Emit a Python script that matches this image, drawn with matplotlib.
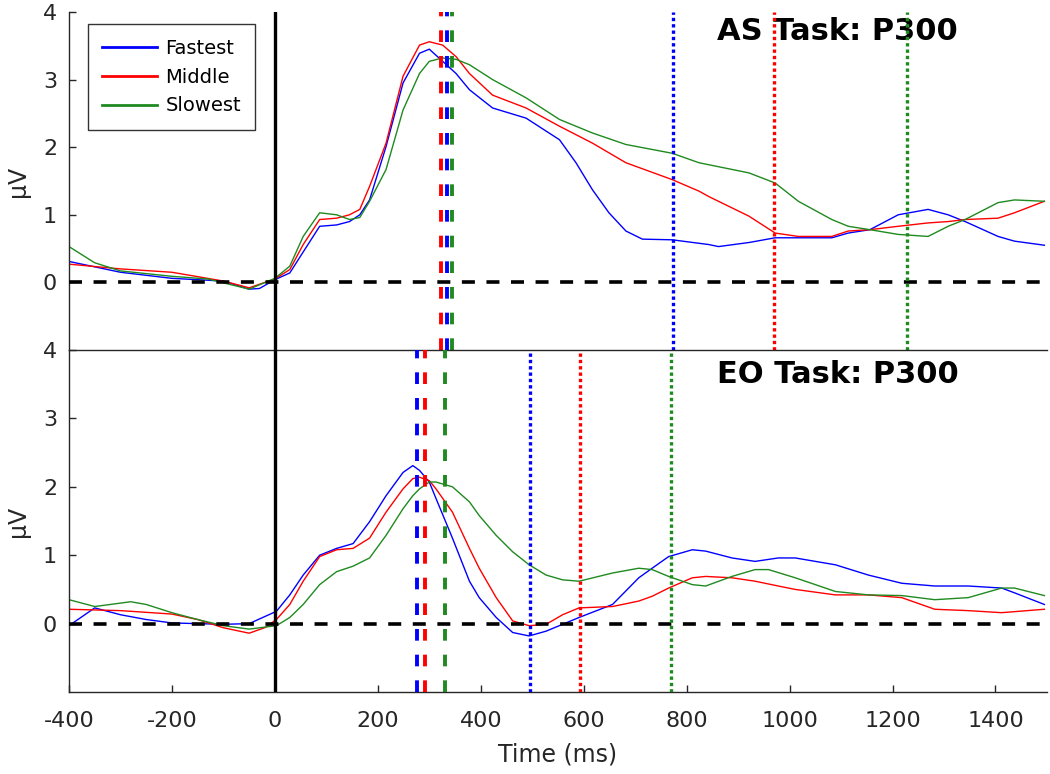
import numpy as np
import matplotlib
matplotlib.use('Agg')
import matplotlib.pyplot as plt

# ---- data: AS task (top panel) ----
as_fast_t = [-400, -300, -200, -100, -50, -30, 0, 29, 55, 87, 120, 145, 165, 184, 216, 249, 281, 300, 326, 352, 378,
             423, 488, 553, 585, 617, 649, 682, 714, 772, 843, 862, 921, 972, 1017, 1082, 1114, 1156, 1211, 1269,
             1308, 1341, 1405, 1437, 1495]
as_fast_v = [0.31, 0.15, 0.06, 0.02, -0.1, -0.09, 0.04, 0.14, 0.45, 0.83, 0.85, 0.9, 1.0, 1.22, 2.01, 2.95, 3.39, 3.45, 3.27, 3.09, 2.85,
             2.58, 2.43, 2.11, 1.77, 1.37, 1.03, 0.76, 0.64, 0.63, 0.56, 0.53, 0.59, 0.66, 0.66, 0.66, 0.73, 0.78, 1.0, 1.08,
             1.0, 0.9, 0.68, 0.61, 0.55]

as_mid_t = [-400, -300, -200, -100, -50, 0, 29, 55, 87, 120, 145, 165, 184, 216, 249, 281, 300, 326, 352, 378,
            423, 488, 553, 617, 682, 772, 824, 843, 921, 972, 1017, 1082, 1114, 1156, 1211, 1269, 1308, 1341,
            1405, 1437, 1495]
as_mid_v = [0.27, 0.2, 0.15, 0.02, -0.08, 0.05, 0.19, 0.56, 0.93, 0.95, 1.0, 1.08, 1.42, 2.06, 3.05, 3.51, 3.56, 3.51, 3.34, 3.09,
            2.77, 2.58, 2.31, 2.06, 1.77, 1.52, 1.35, 1.27, 0.98, 0.73, 0.68, 0.68, 0.76, 0.78, 0.83, 0.88, 0.9, 0.93,
            0.95, 1.03, 1.2]

as_slow_t = [-400, -350, -300, -200, -130, -50, 0, 29, 55, 87, 120, 145, 165, 184, 216, 249, 281, 300, 326, 352, 378,
             423, 488, 553, 617, 682, 772, 824, 921, 972, 1017, 1082, 1114, 1156, 1211, 1269, 1308, 1341, 1405,
             1437, 1495]
as_slow_v = [0.53, 0.29, 0.17, 0.09, 0.05, -0.1, 0.06, 0.24, 0.68, 1.03, 1.0, 0.93, 0.96, 1.2, 1.67, 2.55, 3.09, 3.27, 3.32, 3.3, 3.22,
             3.0, 2.73, 2.41, 2.21, 2.04, 1.91, 1.77, 1.62, 1.47, 1.2, 0.93, 0.83, 0.78, 0.71, 0.68, 0.83, 0.93, 1.18,
             1.22, 1.2]

# ---- data: EO task (bottom panel) ----
eo_fast_t = [-400, -350, -300, -250, -200, -100, -50, 3, 29, 55, 87, 120, 152, 184, 216, 249, 268, 281, 300, 313, 345,
             378, 397, 430, 462, 494, 527, 559, 591, 656, 707, 733, 765, 811, 837, 888, 933, 978, 1011, 1089, 1153,
             1218, 1282, 1347, 1412, 1437, 1495]
eo_fast_v = [-0.03, 0.23, 0.13, 0.06, 0.01, -0.01, 0.0, 0.18, 0.42, 0.71, 1.0, 1.1, 1.17, 1.49, 1.87, 2.21, 2.31, 2.24, 2.07, 1.83, 1.25,
             0.62, 0.38, 0.09, -0.13, -0.18, -0.11, -0.01, 0.09, 0.28, 0.67, 0.81, 0.98, 1.08, 1.06, 0.96, 0.91, 0.96, 0.96, 0.86, 0.71,
             0.59, 0.55, 0.55, 0.52, 0.45, 0.28]

eo_mid_t = [-400, -300, -200, -150, -100, -50, -20, 3, 29, 55, 87, 120, 152, 184, 216, 249, 268, 281, 300, 313, 345,
            378, 397, 430, 462, 494, 527, 559, 591, 656, 707, 733, 765, 811, 837, 888, 933, 978, 1011, 1089, 1153,
            1218, 1282, 1347, 1412, 1495]
eo_mid_v = [0.21, 0.19, 0.14, 0.06, -0.06, -0.14, -0.06, 0.06, 0.28, 0.62, 0.98, 1.08, 1.1, 1.25, 1.63, 1.97, 2.12, 2.14, 2.09, 1.97, 1.63,
            1.1, 0.81, 0.38, 0.04, -0.03, -0.01, 0.13, 0.23, 0.25, 0.33, 0.4, 0.52, 0.67, 0.69, 0.67, 0.62, 0.55, 0.5, 0.42, 0.42,
            0.38, 0.21, 0.19, 0.16, 0.21]

eo_slow_t = [-400, -350, -280, -250, -200, -150, -100, -50, 3, 29, 55, 87, 120, 152, 184, 216, 249, 268, 281, 300, 313, 345,
             378, 397, 430, 462, 494, 527, 559, 591, 656, 707, 733, 765, 811, 837, 888, 933, 959, 1011, 1089, 1153,
             1218, 1282, 1347, 1412, 1437, 1495]
eo_slow_v = [0.35, 0.25, 0.32, 0.28, 0.16, 0.06, -0.03, -0.08, -0.03, 0.09, 0.28, 0.57, 0.76, 0.84, 0.96, 1.29, 1.68, 1.87, 1.97, 2.07, 2.07, 2.0,
             1.78, 1.58, 1.29, 1.05, 0.86, 0.71, 0.64, 0.62, 0.74, 0.81, 0.79, 0.69, 0.57, 0.55, 0.69, 0.79, 0.79, 0.67, 0.47, 0.42,
             0.41, 0.35, 0.38, 0.52, 0.52, 0.41]

# peak latencies (dashed) and response times (dotted): fastest, middle, slowest
as_peak = [334, 323, 344]
as_rt = [774, 970, 1229]
eo_peak = [276, 291, 331]
eo_rt = [495, 593, 770]

labels = ['Fastest', 'Middle', 'Slowest']
cols = ['#0000ff', '#ff0000', '#1f8a1f']
xticks = [-400, -200, 0, 200, 400, 600, 800, 1000, 1200, 1400]
yticks = [0, 1, 2, 3, 4]

txt_col = '#262626'
plt.rcParams['font.family'] = 'DejaVu Sans'

fig = plt.figure(figsize=(10.5, 7.74), dpi=100)
ax1 = fig.add_axes([0.0657, 0.5478, 0.9314, 0.4367])
ax2 = fig.add_axes([0.0657, 0.1059, 0.9314, 0.4419])

panels = [
    (ax1, [(as_fast_t, as_fast_v), (as_mid_t, as_mid_v), (as_slow_t, as_slow_v)], as_peak, as_rt, 'AS Task: P300', 0.941),
    (ax2, [(eo_fast_t, eo_fast_v), (eo_mid_t, eo_mid_v), (eo_slow_t, eo_slow_v)], eo_peak, eo_rt, 'EO Task: P300', 0.927),
]

for ax, curves, peak, rt, title, ty in panels:
    for (t, v), c, lab in zip(curves, cols, labels):
        ax.plot(t, v, color=c, lw=1.0, label=lab)
    ax.axhline(0, color='k', lw=2.6, linestyle=(0, (3.6, 3.2)), zorder=3)
    ax.axvline(0, color='k', lw=2.4, zorder=4)
    for p, c in zip(peak, cols):
        ax.axvline(p, color=c, lw=2.8, linestyle=(0, (3.0, 3.6)), zorder=5)
    for r, c in zip(rt, cols):
        ax.axvline(r, color=c, lw=2.4, linestyle=(0, (1.0, 0.9)), zorder=5)
    ax.set_xlim(-400, 1500)
    ax.set_ylim(-1, 4)
    ax.set_yticks(yticks)
    ax.set_yticklabels([str(y) for y in yticks])
    ax.tick_params(direction='in', length=5, width=1, colors=txt_col, labelsize=16)
    ax.tick_params(axis='y', pad=8.5)
    ax.spines['right'].set_visible(False)
    for s in ax.spines.values():
        s.set_color(txt_col)
        s.set_linewidth(1.0)
    ax.set_ylabel('µV', fontsize=17, color=txt_col, labelpad=9)
    ax.text(0.786, ty, title, transform=ax.transAxes, ha='center', va='center',
            fontsize=22, fontweight='bold', color='k')

ax1.spines['top'].set_visible(False)
ax1.spines['bottom'].set_visible(False)
ax1.set_xticks([])
ax2.set_xticks(xticks)
ax2.set_xticklabels([str(x) for x in xticks])
ax2.tick_params(axis='x', pad=14)
ax2.set_xlabel('Time (ms)', fontsize=17, color=txt_col, labelpad=8)

leg = ax1.legend(loc='upper left', bbox_to_anchor=(0.009, 0.992), fontsize=14, frameon=True,
                 fancybox=False, edgecolor='k', handlelength=2.8, labelspacing=0.5, borderpad=0.75,
                 handletextpad=0.45)
leg.get_frame().set_linewidth(1.0)
for h in leg.get_lines():
    h.set_linewidth(2.0)

fig.savefig('out.png', dpi=100)
